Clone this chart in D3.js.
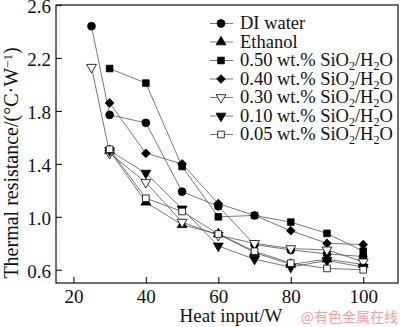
<!DOCTYPE html>
<html>
<head>
<meta charset="utf-8">
<script src="https://cdn.jsdelivr.net/npm/d3@7"></script>
<style>
body { margin: 0; background: #fff; }
svg text { font-family: "Liberation Serif", "Times New Roman", serif; fill: #111; }
</style>
</head>
<body>
<div id="chart"></div>
<script>
var w = 400, h = 327;

// heat input (W) and thermal resistance values per fluid
var heatInput = [25, 30, 40, 50, 60, 70, 80, 90, 100];
var diWater = [2.44, 1.77, 1.71, 1.19, 1.08, 0.79, 0.75, 0.72, 0.70];
var ethanol = [null, 1.50, 1.11, 0.94, 0.87, 0.73, 0.64, 0.68, 0.64];
var si050 = [null, 2.12, 2.01, 1.38, 1.00, 1.01, 0.96, 0.875, 0.74];
var si040 = [null, 1.86, 1.48, 1.40, 1.10, 1.01, 0.895, 0.80, 0.79];
var si030 = [2.13, 1.48, 1.26, 0.96, 0.86, 0.80, 0.76, 0.75, 0.66];
var si010 = [null, 1.50, 1.33, 1.06, 0.78, 0.68, 0.62, 0.67, 0.62];
var si005 = [null, 1.51, 1.14, 1.04, 0.87, 0.74, 0.65, 0.61, 0.60];

var xTicks = [20, 40, 60, 80, 100];
var yTicks = [0.6, 1.0, 1.4, 1.8, 2.2, 2.6];

var seriesNames = ['DI water', 'Ethanol', '0.50', '0.40', '0.30', '0.10', '0.05'];
var seriesValues = [diWater, ethanol, si050, si040, si030, si010, si005];
var markers = ['circle', 'up', 'square', 'diamond', 'downOpen', 'down', 'squareOpen'];

var padL = 56, padR = 398, padT = 5, padB = 283;

var x = d3.scaleLinear().domain([15.2, 109.6]).range([padL, padR]);
var y = d3.scaleLinear().domain([0.5, 2.6]).range([padB, padT]);

var svg = d3.select('#chart').append('svg')
    .attr('width', w)
    .attr('height', h);

function symbolFor(m) {
    var g = d3.symbol();
    if (m == 'circle') return { d: g.type(d3.symbolCircle).size(48)(), rot: 0, fill: '#000' };
    if (m == 'up') return { d: g.type(d3.symbolTriangle).size(42)(), rot: 0, fill: '#000' };
    if (m == 'down') return { d: g.type(d3.symbolTriangle).size(42)(), rot: 180, fill: '#000' };
    if (m == 'downOpen') return { d: g.type(d3.symbolTriangle).size(42)(), rot: 180, fill: '#fff' };
    if (m == 'square') return { d: g.type(d3.symbolSquare).size(44)(), rot: 0, fill: '#000' };
    if (m == 'squareOpen') return { d: g.type(d3.symbolSquare).size(44)(), rot: 0, fill: '#fff' };
    return { d: g.type(d3.symbolSquare).size(38)(), rot: 45, fill: '#000' };
}

// frame
svg.append('rect')
    .attr('x', padL).attr('y', padT)
    .attr('width', padR - padL).attr('height', padB - padT)
    .attr('fill', 'none').attr('stroke', '#111').attr('stroke-width', 1.2);

// axes with inward ticks
var xAxis = svg.append('g')
    .attr('transform', 'translate(0,' + padB + ')')
    .call(d3.axisBottom(x).tickValues(xTicks).tickSizeInner(-6).tickSizeOuter(0).tickPadding(7));
var yAxis = svg.append('g')
    .attr('transform', 'translate(' + padL + ',0)')
    .call(d3.axisLeft(y).tickValues(yTicks).tickFormat(d3.format('.1f')).tickSizeInner(-6).tickSizeOuter(0).tickPadding(5));

[xAxis, yAxis].forEach(function (a) {
    a.select('.domain').remove();
    a.selectAll('line').attr('stroke', '#111').attr('stroke-width', 1.1);
    a.selectAll('text').attr('font-size', 19).attr('fill', '#111')
        .style('font-family', '"Liberation Serif", serif');
});
yAxis.selectAll('text').attr('dy', '0.42em');

// series
var line = d3.line()
    .defined(function (d) { return d[1] != null; })
    .x(function (d) { return x(d[0]); })
    .y(function (d) { return y(d[1]); });

var plot = svg.append('g');
seriesValues.forEach(function (vals, i) {
    var pts = heatInput.map(function (hx, j) { return [hx, vals[j]]; });
    plot.append('path')
        .attr('d', line(pts))
        .attr('fill', 'none')
        .attr('stroke', '#555')
        .attr('stroke-width', 0.8);
});
seriesValues.forEach(function (vals, i) {
    var s = symbolFor(markers[i]);
    var pts = heatInput.map(function (hx, j) { return [hx, vals[j]]; })
        .filter(function (d) { return d[1] != null; });
    plot.selectAll('.m' + i).data(pts).enter()
        .append('path')
        .attr('class', 'm' + i)
        .attr('d', s.d)
        .attr('transform', function (d) {
            return 'translate(' + x(d[0]) + ',' + y(d[1]) + ') rotate(' + s.rot + ')';
        })
        .attr('fill', s.fill)
        .attr('stroke', '#000')
        .attr('stroke-width', 0.8);
});

// legend
var legend = svg.append('g');
seriesNames.forEach(function (name, i) {
    var ly = 23.5 + i * 18.5;
    legend.append('line')
        .attr('x1', 210).attr('x2', 233).attr('y1', ly).attr('y2', ly)
        .attr('stroke', '#555').attr('stroke-width', 0.8);
    var s = symbolFor(markers[i]);
    legend.append('path')
        .attr('d', s.d)
        .attr('transform', 'translate(221,' + ly + ') rotate(' + s.rot + ')')
        .attr('fill', s.fill).attr('stroke', '#000').attr('stroke-width', 0.8);
    var t = legend.append('text')
        .attr('x', 240).attr('y', ly + 5.5)
        .attr('font-size', 18.5);
    if (i < 2) {
        t.text(name);
    } else {
        t.append('tspan').text(name + ' wt.% SiO');
        t.append('tspan').attr('font-size', 12).attr('dy', 4).text('2');
        t.append('tspan').attr('dy', -4).text('/H');
        t.append('tspan').attr('font-size', 12).attr('dy', 4).text('2');
        t.append('tspan').attr('dy', -4).text('O');
    }
});

// axis titles
svg.append('text')
    .attr('x', 231).attr('y', 322)
    .attr('text-anchor', 'middle')
    .attr('font-size', 19)
    .text('Heat input/W');

var yt = svg.append('text')
    .attr('transform', 'translate(18,163) rotate(-90)')
    .attr('text-anchor', 'middle')
    .attr('font-size', 20);
yt.append('tspan').text('Thermal resistance/(°C·W');
yt.append('tspan').attr('font-size', 13).attr('dy', -6).text('−1');
yt.append('tspan').attr('dy', 6).text(')');

// watermark
svg.append('text')
    .attr('x', 398).attr('y', 322)
    .attr('text-anchor', 'end')
    .attr('font-size', 14)
    .style('font-family', '"Noto Sans CJK SC", sans-serif')
    .style('fill', '#f2a0a0')
    .text('@有色金属在线');
</script>
</body>
</html>
